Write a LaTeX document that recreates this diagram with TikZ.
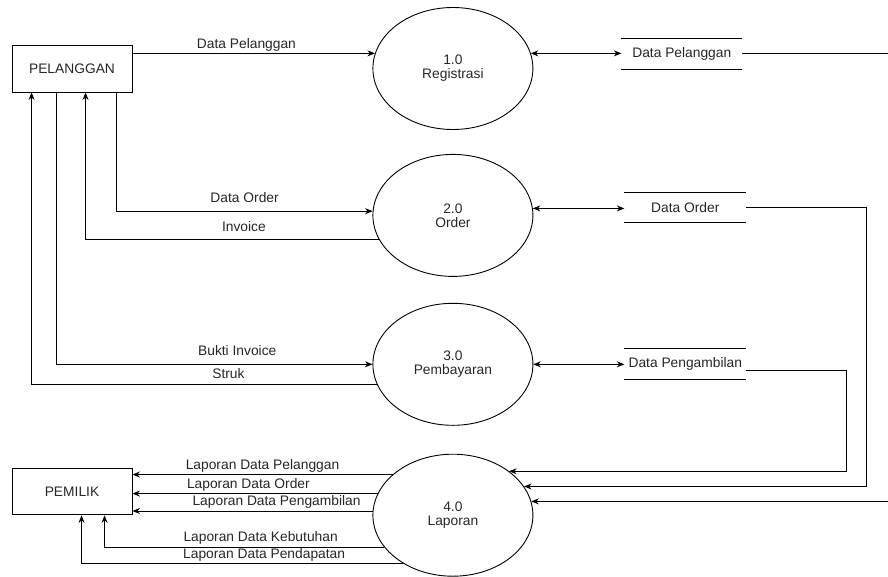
\documentclass[tikz,border=0pt]{standalone}
\usepackage{fontspec}
\setmainfont{Liberation Sans}
\usetikzlibrary{arrows.meta,shapes,positioning}
\tikzset{flow/.style={-{Stealth[length=7.5pt,width=6pt]}}}
\tikzset{both/.style={{Stealth[length=7.5pt,width=6pt]}-{Stealth[length=7.5pt,width=6pt]}}}
\newcommand{\proc}[2]{#1\\#2}

\begin{document}
\begin{tikzpicture}[x=1pt, y=-1pt, line width=0.9pt, text=black!85,
    font=\fontsize{13.8}{14}\selectfont,
    entity/.style={draw, minimum width=120pt, minimum height=47pt, inner sep=0pt},
    process/.style={draw, ellipse, minimum width=160pt, minimum height=122pt, inner sep=0pt, align=center},
    store/.style={minimum width=121pt, minimum height=30pt, inner sep=0pt},
    lbl/.style={above, inner sep=2pt}]
    \useasboundingbox (0,0) rectangle (888,576);

    \node[entity] (pelanggan) at (72,68.5) {PELANGGAN};
    \node[process] (registrasi) [right=240pt of pelanggan] {\proc{1.0}{Registrasi}};
    \node[process] (order) [below=24pt of registrasi] {\proc{2.0}{Order}};
    \node[process] (bayar) [below=26pt of order] {\proc{3.0}{Pembayaran}};
    \node[process] (laporan) [below=28pt of bayar] {\proc{4.0}{Laporan}};
    \node[entity, minimum height=46pt] (pemilik) [below=376pt of pelanggan] {PEMILIK};

    \node[store, minimum width=120pt] (dpelanggan) [right=88pt of registrasi, yshift=15pt] {Data Pelanggan};
    \node[store] (dorder) [right=91pt of order, yshift=8pt] {Data Order};
    \node[store] (dambil) [right=91pt of bayar] {Data Pengambilan};
    \draw (dpelanggan.north west) -- (dpelanggan.north east)
          (dpelanggan.south west) -- (dpelanggan.south east)
          (dorder.north west) -- (dorder.north east)
          (dorder.south west) -- (dorder.south east)
          (dambil.north west) -- (dambil.north east)
          (dambil.south west) -- (dambil.south east);

    \draw[flow] (registrasi.169 -| pelanggan.east) -- node[lbl, pos=.47] {Data Pelanggan} (registrasi.169);
    \draw[flow] ([xshift=105pt]pelanggan.south west) |- node[lbl, pos=.75, yshift=6pt] {Data Order} (order.177);
    \draw[flow] (order.198) -| node[lbl, pos=.23, yshift=5pt] {Invoice} ([xshift=74pt]pelanggan.south west);
    \draw[flow] ([xshift=45pt]pelanggan.south west) |- node[lbl, pos=.786, yshift=6pt] {Bukti Invoice} (bayar.west);
    \draw[flow] (bayar.195) -| node[lbl, pos=.215, yshift=4pt] {Struk} ([xshift=20pt]pelanggan.south west);

    \draw[both] (registrasi.11) -- (registrasi.11 -| dpelanggan.west);
    \draw[both] (order.5) -- (order.5 -| dorder.west);
    \draw[both] (bayar.east) -- (bayar.east -| dambil.west);

    \draw[flow] (dpelanggan.east) -- ++(151,0) |- (laporan.10.2);
    \draw[flow] (dorder.east) -- ++(120,0) |- (laporan.22.4);
    \draw[flow] ([yshift=-6pt]dambil.east) -- ++(100,0) |- (laporan.38.5);

    \draw[flow] (laporan.146.5) -- node[lbl, pos=.5] {Laporan Data Pelanggan} (laporan.146.5 -| pemilik.east);
    \draw[flow] (laporan.164.4) -- node[lbl, pos=.527] {Laporan Data Order} (laporan.164.4 -| pemilik.east);
    \draw[flow] (laporan.177) -- node[lbl, pos=.4] {Laporan Data Pengambilan} (laporan.177 -| pemilik.east);
    \draw[flow] (laporan.205) -| node[lbl, pos=.221] {Laporan Data Kebutuhan} ([xshift=93pt]pemilik.south west);
    \draw[flow] (laporan.224) -| node[lbl, pos=.216] {Laporan Data Pendapatan} ([xshift=70pt]pemilik.south west);
\end{tikzpicture}
\end{document}
